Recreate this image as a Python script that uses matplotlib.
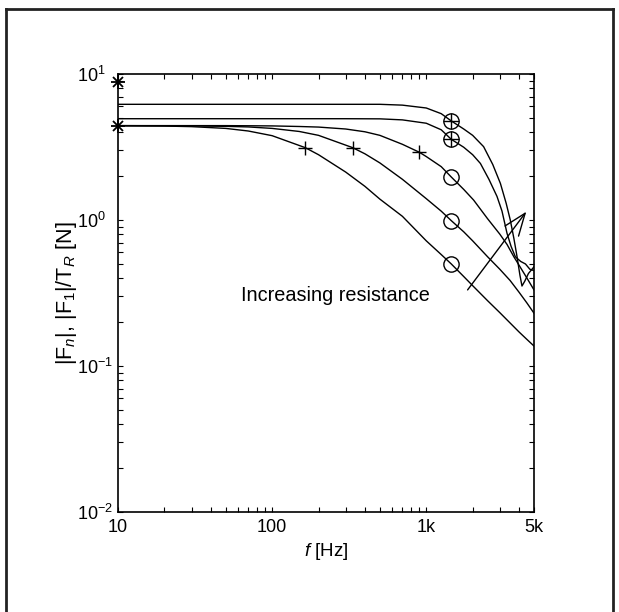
import numpy as np
import matplotlib
matplotlib.use("Agg")
import matplotlib.pyplot as plt
from matplotlib.lines import Line2D
from matplotlib.ticker import LogLocator, NullFormatter

plt.rcParams['font.family'] = ['Liberation Sans', 'DejaVu Sans']
plt.rcParams['font.size'] = 13
plt.rcParams['mathtext.fontset'] = 'custom'
plt.rcParams['mathtext.rm'] = 'Liberation Sans'
plt.rcParams['mathtext.it'] = 'Liberation Sans:italic'
plt.rcParams['mathtext.default'] = 'regular'

# force magnitude curves, lowest resistance first (top) to highest (bottom)
f_top = [10, 100, 300, 500, 700, 1000, 1250, 1453, 1750, 2000, 2355, 2700, 3027, 3300, 3508, 3700, 3882, 4050, 4178, 4350, 4600, 5000]
F_top = [6.2, 6.2, 6.2, 6.2, 6.12, 5.85, 5.35, 4.77, 4.2, 3.8, 3.18, 2.4, 1.78, 1.3, 1.0, 0.75, 0.56, 0.42, 0.353, 0.38, 0.43, 0.478]

f_2 = [10, 100, 300, 500, 700, 1000, 1250, 1453, 1750, 2000, 2245, 2550, 2877, 3100, 3342, 3550, 3784, 4100, 4400, 4700, 5000]
F_2 = [4.94, 4.94, 4.94, 4.93, 4.85, 4.6, 4.15, 3.57, 3.15, 2.8, 2.44, 1.9, 1.45, 1.15, 0.81, 0.66, 0.56, 0.52, 0.50, 0.46, 0.45]

f_3 = [10, 50, 100, 150, 200, 300, 400, 500, 700, 902, 1000, 1250, 1453, 1750, 2028, 2500, 3000, 3342, 3700, 4000, 4500, 5000]
F_3 = [4.43, 4.43, 4.41, 4.37, 4.33, 4.2, 4.02, 3.8, 3.3, 2.91, 2.72, 2.32, 1.97, 1.62, 1.37, 1.02, 0.80, 0.68, 0.56, 0.49, 0.40, 0.332]

f_4 = [10, 20, 30, 50, 70, 100, 150, 200, 333, 400, 500, 700, 1000, 1250, 1453, 1750, 2000, 2500, 3000, 3500, 4000, 4500, 5000]
F_4 = [4.43, 4.42, 4.41, 4.38, 4.34, 4.24, 4.04, 3.80, 3.13, 2.84, 2.46, 1.90, 1.40, 1.15, 0.99, 0.83, 0.72, 0.56, 0.46, 0.385, 0.32, 0.27, 0.23]

f_5 = [10, 20, 30, 50, 70, 100, 164, 200, 300, 400, 500, 700, 1000, 1250, 1453, 1750, 2000, 2500, 3000, 3500, 4000, 4500, 5000]
F_5 = [4.42, 4.40, 4.36, 4.24, 4.07, 3.78, 3.13, 2.80, 2.13, 1.70, 1.39, 1.06, 0.72, 0.58, 0.50, 0.41, 0.355, 0.28, 0.232, 0.197, 0.171, 0.152, 0.137]

# static force |F_1|/T_R at 10 Hz
f_static = [10, 10]
F_static = [8.86, 4.43]

# cut-off frequencies
f_cut = [164, 333, 902]
F_cut = [3.13, 3.13, 2.91]

# operating point
f_op = 1453
F_op = [4.77, 3.57, 1.97, 0.99, 0.50]

fig = plt.figure(figsize=(6.19, 6.12), dpi=100)
ax = fig.add_axes([118/619, 1 - 512/612, (534 - 118)/619, (512 - 74)/612])

for f, F in [(f_top, F_top), (f_2, F_2), (f_3, F_3), (f_4, F_4), (f_5, F_5)]:
    ax.plot(f, F, '-', color='k', lw=1.0)

# asterisk markers drawn as plus + cross
ax.plot(f_static, F_static, 'k+', ms=10, mew=1.3, clip_on=False, zorder=5)
ax.plot(f_static, F_static, 'kx', ms=7.5, mew=1.3, clip_on=False, zorder=5)
ax.plot(f_cut, F_cut, 'k+', ms=9.5, mew=1.0)
ax.plot([f_op]*len(F_op), F_op, 'o', mfc='none', mec='k', ms=11, mew=1.0)
ax.plot([f_op]*2, F_op[:2], 'k+', ms=11, mew=1.0)

ax.annotate('', xy=(4456, 1.14), xytext=(1854, 0.332),
            arrowprops=dict(arrowstyle='->, head_length=1.0, head_width=0.38',
                            lw=1.0, color='k', mutation_scale=16, shrinkA=0, shrinkB=0))
ax.text(258, 0.306, 'Increasing resistance', ha='center', va='center', fontsize=14.3)

ax.set_xscale('log')
ax.set_yscale('log')
ax.set_xlim(10, 5000)
ax.set_ylim(1e-2, 1e1)

ax.set_xticks([10, 100, 1000, 5000])
ax.set_xticklabels(['10', '100', '1k', '5k'])
ax.xaxis.set_minor_locator(LogLocator(base=10, subs=np.arange(2, 10)))
ax.xaxis.set_minor_formatter(NullFormatter())
ax.set_yticks([1e-2, 1e-1, 1, 10])
ax.set_yticklabels([r'$10^{-2}$', r'$10^{-1}$', r'$10^{0}$', r'$10^{1}$'])
ax.yaxis.set_minor_locator(LogLocator(base=10, subs=np.arange(2, 10)))
ax.yaxis.set_minor_formatter(NullFormatter())

ax.tick_params(which='both', direction='in', top=True, right=True, length=3.5, width=0.8)
ax.tick_params(axis='x', pad=5)
ax.tick_params(axis='y', pad=29.5)
for lab in ax.get_yticklabels():
    lab.set_horizontalalignment('left')
for s in ax.spines.values():
    s.set_linewidth(1.2)

ax.set_xlabel(r'$\mathit{f}$ [Hz]', fontsize=13.5)
ax.set_ylabel(r'$|F_{\mathit{n}}|$, $|F_{\mathit{1}}|/T_{\mathit{R}}$ [N]', fontsize=15.5)
ax.yaxis.set_label_coords(-0.093, 0.5)

# frame around the figure
for xs, ys in [([5.5, 5.5], [0, 603]), ([5.5, 612.5], [603, 603]), ([612.5, 612.5], [603, 0])]:
    fig.add_artist(Line2D(np.array(xs)/619, np.array(ys)/612, color='#222222', lw=2.0))

fig.savefig('out.png', dpi=100)
